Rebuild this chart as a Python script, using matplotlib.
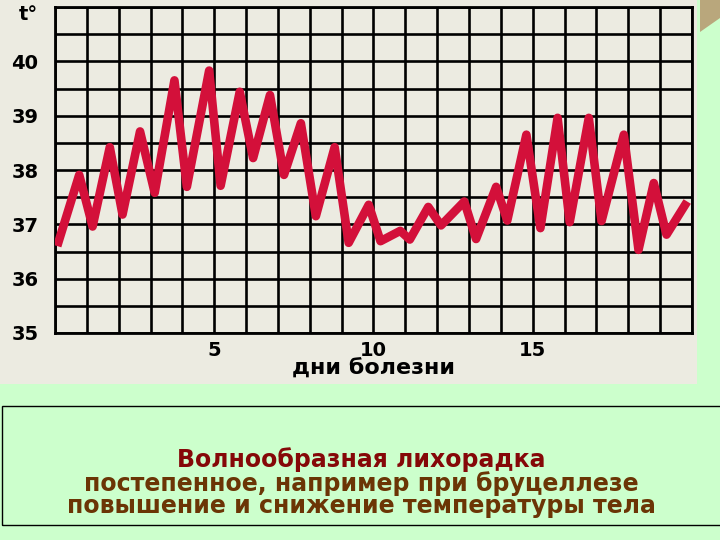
import numpy as np
import matplotlib
matplotlib.use("Agg")
import matplotlib.pyplot as plt
from matplotlib.patches import Rectangle, Polygon

# ---- data ----
days = [0.07, 0.76, 1.18, 1.72, 2.12, 2.67, 3.13, 3.75, 4.14, 4.84,
        5.2, 5.8, 6.22, 6.75, 7.19, 7.72, 8.19, 8.78, 9.22, 9.85,
        10.22, 10.84, 11.14, 11.72, 12.12, 12.85, 13.22, 13.85, 14.2, 14.8,
        15.24, 15.78, 16.16, 16.76, 17.16, 17.86, 18.32, 18.8, 19.2, 19.85]
temps = [36.6, 37.91, 36.96, 38.42, 37.18, 38.71, 37.58, 39.65, 37.69, 39.83,
         37.71, 39.44, 38.22, 39.38, 37.91, 38.86, 37.15, 38.42, 36.66, 37.36,
         36.69, 36.88, 36.72, 37.32, 36.98, 37.42, 36.73, 37.69, 37.07, 38.65,
         36.93, 38.96, 37.04, 38.96, 37.06, 38.65, 36.53, 37.76, 36.81, 37.42]
y_ticks = [35, 36, 37, 38, 39, 40]
x_ticks = [5, 10, 15]
x_label = "дни болезни"
y_label = "t°"
caption = ["Волнообразная лихорадка",
           "постепенное, например при бруцеллезе",
           "повышение и снижение температуры тела"]

W, H = 720, 540
BEIGE = "#ecebe1"
GREEN = "#ccffcc"

fig = plt.figure(figsize=(7.2, 5.4), dpi=100)
fig.patch.set_facecolor(GREEN)

# beige panel behind the chart
fig.add_artist(Rectangle((0, 1 - 384 / H), 697 / W, 384 / H,
                         transform=fig.transFigure, facecolor=BEIGE,
                         edgecolor="none", zorder=0))
# small decoration top-right
fig.add_artist(Polygon([(700 / W, 1), (720 / W, 1), (720 / W, 1 - 18 / H),
                        (700 / W, 1 - 32 / H)], closed=True,
                       transform=fig.transFigure, facecolor="#b9a77c",
                       edgecolor="none", zorder=0))

ax = fig.add_axes([55 / W, 1 - 333 / H, (692 - 55) / W, (333 - 7) / H])
ax.set_facecolor(BEIGE)
ax.set_xlim(0, 20)
ax.set_ylim(35, 41)

ax.set_xticks(x_ticks)
ax.set_xticks(np.arange(0, 21, 1), minor=True)
ax.set_yticks(y_ticks)
ax.set_yticks(np.arange(35, 41.01, 0.5), minor=True)
ax.grid(which="both", color="black", linewidth=1.9)
ax.set_axisbelow(True)
for s in ax.spines.values():
    s.set_color("black")
    s.set_linewidth(2.0)

tick_font = dict(family="DejaVu Sans", weight="bold", size=14)
ax.tick_params(which="both", length=0)
ax.tick_params(axis="y", pad=12)
ax.tick_params(axis="x", pad=6)
ax.set_yticklabels([str(v) for v in y_ticks], fontdict=tick_font)
ax.set_xticklabels([str(v) for v in x_ticks], fontdict=tick_font)

ax.set_xlabel(x_label, fontdict=dict(family="DejaVu Sans", weight="bold", size=16),
              va="center")
ax.xaxis.set_label_coords(0.5, (333 - 369) / 326)

fig.text(28 / W, 1 - 15 / H, y_label, ha="center", va="center",
         family="DejaVu Sans", weight="bold", size=14)

ax.plot(days, temps, color="#d3103a", linewidth=6.2,
        solid_joinstyle="round", solid_capstyle="butt", zorder=3)

# caption box
fig.add_artist(Rectangle((2 / W, 1 - 525 / H), 720 / W, (525 - 406) / H,
                         transform=fig.transFigure, facecolor="none",
                         edgecolor="black", linewidth=1.0, zorder=2))
cap_y = [460, 484, 506]
cap_col = ["#850808", "#6b3505", "#6b3505"]
for txt, yy, cc in zip(caption, cap_y, cap_col):
    fig.text(361 / W, 1 - yy / H, txt, ha="center", va="center",
             family="DejaVu Sans", weight="bold", size=17, color=cc)

fig.savefig("out.png", dpi=100, facecolor=fig.get_facecolor())
